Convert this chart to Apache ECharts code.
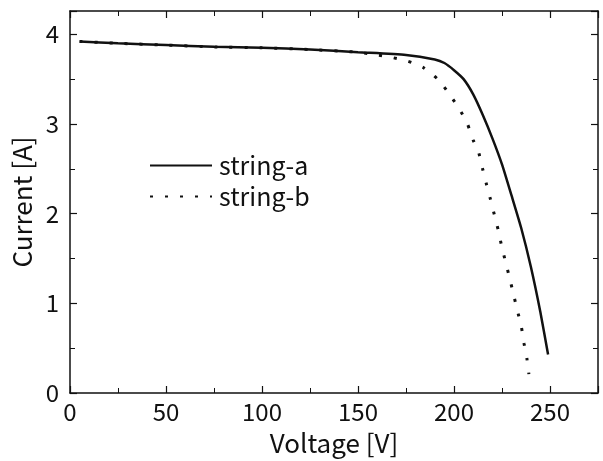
<!DOCTYPE html>
<html lang="en">
<head>
    <meta charset="UTF-8">
    <title>I-V curve</title>
    <style>
        html, body { margin: 0; padding: 0; background: #fff; }
        #box { width: 603px; height: 461px; }
    </style>
</head>
<body>
    <div id="box"></div>
</body>
<script src="https://cdn.jsdelivr.net/npm/echarts@6/dist/echarts.min.js"></script>
<script>
    // voltage [V] / current [A]
    var voltA = [5, 25, 50, 75, 100, 125, 150, 175, 190, 195, 200, 205, 210, 215, 220, 225, 230, 235, 240, 245, 249];
    var currA = [3.92, 3.90, 3.88, 3.86, 3.85, 3.83, 3.80, 3.77, 3.72, 3.68, 3.60, 3.50, 3.33, 3.10, 2.84, 2.55, 2.20, 1.84, 1.41, 0.90, 0.43];

    var voltB = [5, 25, 50, 75, 100, 125, 150, 160, 168, 176, 184, 192, 198, 203, 207, 210, 213, 215, 217, 219, 221, 223, 225, 227, 229, 231, 233, 235, 236.5, 238, 239];
    var currB = [3.92, 3.90, 3.88, 3.86, 3.85, 3.83, 3.80, 3.77, 3.74, 3.70, 3.63, 3.49, 3.32, 3.16, 3.00, 2.82, 2.67, 2.49, 2.32, 2.16, 1.99, 1.82, 1.62, 1.45, 1.28, 1.10, 0.92, 0.75, 0.55, 0.38, 0.21];

    var seriesNames = ['string-a', 'string-b'];
    var xTitle = 'Voltage [V]';
    var yTitle = 'Current [A]';

    function pairs(xs, ys) {
        var res = [];
        for (var i = 0; i < xs.length; i++) res.push([xs[i], ys[i]]);
        return res;
    }

    var font = '"Noto Sans CJK JP", "Liberation Sans", sans-serif';
    var axisLine = { show: true, onZero: false, lineStyle: { color: '#111', width: 1.5 } };
    var tickIn = { show: true, inside: true, length: 7, lineStyle: { color: '#111', width: 1.2 } };
    var minorIn = { show: true, splitNumber: 2, length: 5, lineStyle: { color: '#111', width: 1 } };

    var box = echarts.init(document.getElementById('box'));
    var option = {
        backgroundColor: '#fff',
        animation: false,
        textStyle: { fontFamily: font },
        grid: { left: 70, right: 5, top: 11, bottom: 65, containLabel: false },
        legend: {
            left: 144,
            top: 148,
            orient: 'vertical',
            itemWidth: 62,
            itemHeight: 12,
            itemGap: 6,
            itemStyle: { opacity: 0 },
            textStyle: { fontSize: 25, color: '#111', fontFamily: font, padding: [0, 0, 0, 2] },
            data: seriesNames
        },
        xAxis: [
            {
                type: 'value', min: 0, max: 275, interval: 50,
                name: xTitle, nameLocation: 'middle', nameGap: 37,
                nameTextStyle: { fontSize: 26, color: '#111' },
                axisLine: axisLine, axisTick: tickIn, minorTick: minorIn,
                axisLabel: { fontSize: 24, color: '#111', margin: 7, showMaxLabel: false },
                splitLine: { show: false }
            },
            {
                type: 'value', position: 'top', min: 0, max: 275, interval: 50,
                axisLine: axisLine, axisTick: tickIn, minorTick: minorIn,
                axisLabel: { show: false }, splitLine: { show: false }
            }
        ],
        yAxis: [
            {
                type: 'value', min: 0, max: 4.26, interval: 1,
                name: yTitle, nameLocation: 'middle', nameGap: 32,
                nameTextStyle: { fontSize: 26, color: '#111' },
                axisLine: axisLine, axisTick: tickIn, minorTick: minorIn,
                axisLabel: { fontSize: 24, color: '#111', margin: 11, showMaxLabel: false },
                splitLine: { show: false }
            },
            {
                type: 'value', position: 'right', min: 0, max: 4.26, interval: 1,
                axisLine: axisLine, axisTick: tickIn, minorTick: minorIn,
                axisLabel: { show: false }, splitLine: { show: false }
            }
        ],
        series: [
            {
                name: seriesNames[0],
                type: 'line',
                data: pairs(voltA, currA),
                symbol: 'none',
                smooth: 0.2,
                itemStyle: { color: '#111' },
                lineStyle: { color: '#111', width: 2.5 }
            },
            {
                name: seriesNames[1],
                type: 'line',
                data: pairs(voltB, currB),
                symbol: 'none',
                smooth: 0.2,
                itemStyle: { color: '#111' },
                lineStyle: { color: '#111', width: 3, type: [3, 12] }
            }
        ]
    };
    box.setOption(option);
</script>
</html>
